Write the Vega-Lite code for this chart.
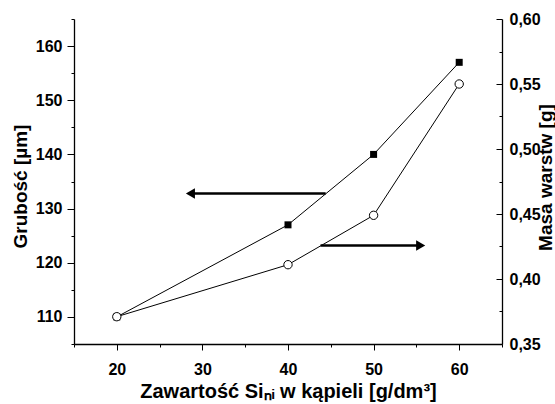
{
  "$schema": "https://vega.github.io/schema/vega-lite/v6.json",
  "width": 428,
  "height": 325,
  "autosize": {"type": "none"},
  "padding": {"left": 74, "top": 19, "right": 53, "bottom": 60},
  "background": "white",
  "config": {
    "view": {"stroke": null},
    "font": "Liberation Sans",
    "axis": {
      "domainColor": "black", "domainWidth": 1.3, "tickColor": "black", "tickWidth": 1,
      "labelColor": "black", "labelFont": "Liberation Sans", "labelFontWeight": "bold", "labelFontSize": 16,
      "titleFont": "Liberation Sans", "titleFontWeight": "bold", "titleFontSize": 19, "titleColor": "black",
      "grid": false
    }
  },
  "datasets": {
    "thick": [{"c": 20, "t": 110}, {"c": 40, "t": 127}, {"c": 50, "t": 140}, {"c": 60, "t": 157}],
    "mass": [{"c": 20, "m": 0.371}, {"c": 40, "m": 0.411}, {"c": 50, "m": 0.449}, {"c": 60, "m": 0.55}],
    "arrows": [
      {"x1": 28.6, "x2": 44.4, "y": 132.8, "hx": 28.6, "shape": "triangle-left"},
      {"x1": 43.8, "x2": 55.5, "y": 123.2, "hx": 55.5, "shape": "triangle-right"}
    ]
  },
  "layer": [
    {
      "layer": [
        {
          "data": {"name": "thick"},
          "mark": {"type": "line", "color": "black", "strokeWidth": 1},
          "encoding": {
            "x": {"field": "c", "type": "quantitative", "scale": {"domain": [15, 65], "nice": false, "zero": false},
              "axis": {"orient": "bottom", "values": [20, 30, 40, 50, 60], "tickSize": 6, "labelPadding": 11,
                "title": "Zawartość Siₙᵢ w kąpieli [g/dm³]", "titleFontSize": 20, "titleX": 214, "titleY": 53, "titleBaseline": "alphabetic", "titleAlign": "center"}},
            "y": {"field": "t", "type": "quantitative", "scale": {"domain": [105, 165], "nice": false, "zero": false},
              "axis": {"orient": "left", "values": [110, 120, 130, 140, 150, 160], "tickSize": 7, "labelPadding": 5,
                "title": "Grubość [µm]", "titleAngle": -90, "titleX": -54, "titleY": 167, "titleBaseline": "middle", "titleAlign": "center"}}
          }
        },
        {
          "data": {"name": "thick"},
          "mark": {"type": "point", "shape": "square", "filled": true, "color": "black", "size": 49, "opacity": 1},
          "encoding": {
            "x": {"field": "c", "type": "quantitative",
              "axis": {"orient": "bottom", "values": [15, 25, 35, 45, 55, 65], "tickSize": 3, "labels": false, "domain": false, "title": null}},
            "y": {"field": "t", "type": "quantitative",
              "axis": {"orient": "left", "values": [105, 115, 125, 135, 145, 155, 165], "tickSize": 3, "labels": false, "domain": false, "title": null}}
          }
        },
        {
          "data": {"name": "arrows"},
          "mark": {"type": "rule", "strokeWidth": 2.5, "color": "black"},
          "encoding": {
            "x": {"field": "x1", "type": "quantitative", "axis": null},
            "x2": {"field": "x2"},
            "y": {"field": "y", "type": "quantitative", "axis": null}
          }
        },
        {
          "data": {"name": "arrows"},
          "mark": {"type": "point", "filled": true, "color": "black", "size": 110, "opacity": 1},
          "encoding": {
            "x": {"field": "hx", "type": "quantitative", "axis": null},
            "y": {"field": "y", "type": "quantitative", "axis": null},
            "shape": {"field": "shape", "type": "nominal", "scale": null}
          }
        }
      ],
      "resolve": {"axis": {"x": "independent", "y": "independent"}}
    },
    {
      "layer": [
        {
          "data": {"name": "mass"},
          "mark": {"type": "line", "color": "black", "strokeWidth": 1},
          "encoding": {
            "x": {"field": "c", "type": "quantitative", "axis": null},
            "y": {"field": "m", "type": "quantitative", "scale": {"domain": [0.35, 0.6], "nice": false, "zero": false},
              "axis": {"orient": "right", "values": [0.35, 0.4, 0.45, 0.5, 0.55, 0.6], "tickSize": -6, "labelPadding": 13,
                "labelExpr": "replace(format(datum.value, '.2f'), '.', ',')",
                "title": "Masa warstw [g]", "titleAngle": -90, "titleX": 43, "titleY": 158, "titleBaseline": "middle", "titleAlign": "center"}}
          }
        },
        {
          "data": {"name": "mass"},
          "mark": {"type": "point", "shape": "circle", "filled": true, "fill": "white", "stroke": "black", "strokeWidth": 1, "size": 70, "opacity": 1},
          "encoding": {
            "x": {"field": "c", "type": "quantitative", "axis": null},
            "y": {"field": "m", "type": "quantitative",
              "axis": {"orient": "right", "values": [0.375, 0.425, 0.475, 0.525, 0.575], "tickSize": -3, "labels": false, "domain": false, "title": null}}
          }
        }
      ],
      "resolve": {"axis": {"y": "independent"}}
    }
  ],
  "resolve": {"scale": {"y": "independent"}, "axis": {"x": "independent"}}
}
